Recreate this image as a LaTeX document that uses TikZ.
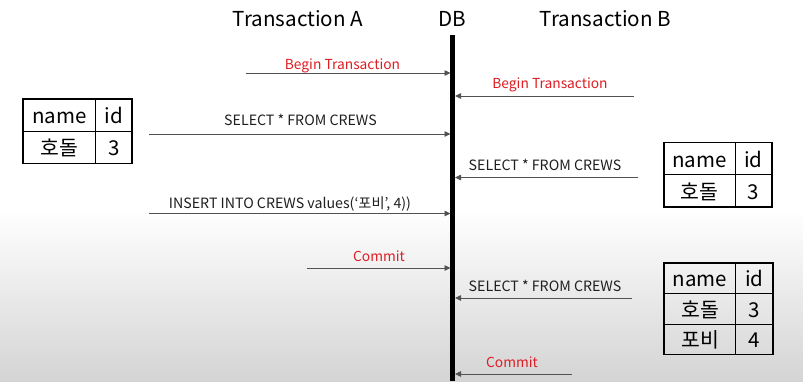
\documentclass[tikz,border=0pt]{standalone}
\usepackage{fontspec}
\setmainfont{Noto Sans CJK KR}
\usetikzlibrary{arrows.meta}
\definecolor{lblred}{RGB}{222,30,36}
\definecolor{bggray}{RGB}{212,212,212}
\begin{document}
\begin{tikzpicture}[x=1pt,y=-1pt,
  title/.style={font=\fontsize{20.6}{24}\selectfont, inner sep=0, anchor=base},
  lbl/.style={font=\fontsize{14.2}{16}\selectfont, inner sep=0, anchor=base, text=black!88},
  redlbl/.style={lbl, text=lblred, font=\fontsize{13.8}{16}\selectfont},
  msg/.style={draw=black!68, line width=0.8pt, -{Triangle[length=6pt,width=5.5pt]}},
  cellbox/.style={draw=black, line width=0.7pt, inner sep=0, font=\fontsize{20.5}{23}\selectfont, text height=21pt, text depth=4pt},
  outer/.style={draw=black, line width=1.7pt}]
\useasboundingbox (0,0) rectangle (803,381);
\fill[white] (0,0) rectangle (803,381);
\shade[top color=white, bottom color=bggray] (0,210) rectangle (803,381);

% titles
\node[title] (ta) at (298,26) {Transaction A};
\node[title] (db) at (452.5,26) {DB};
\node[title] (tb) at (605.5,26) {Transaction B};

% DB line
\coordinate (dbtop) at (452.5,35);
\coordinate (dbbot) at (452.5,381);
\draw[line width=5pt] (dbtop) -- (dbbot);

% endpoints
\coordinate (a1s) at (246,73);   \coordinate (a1e) at (450.5,73);
\coordinate (b1s) at (634,96);   \coordinate (b1e) at (455,96);
\coordinate (a2s) at (149,134);  \coordinate (a2e) at (450.5,134);
\coordinate (b2s) at (638,177.5);\coordinate (b2e) at (455,177.5);
\coordinate (a3s) at (149,213.5);\coordinate (a3e) at (450.5,213.5);
\coordinate (a4s) at (307,268);  \coordinate (a4e) at (450.5,268);
\coordinate (b3s) at (632,298);  \coordinate (b3e) at (455,298);
\coordinate (b4s) at (572,374);  \coordinate (b4e) at (455,374);

\draw[msg] (a1s) -- (a1e);
\draw[msg] (b1s) -- (b1e);
\draw[msg] (a2s) -- (a2e);
\draw[msg] (b2s) -- (b2e);
\draw[msg] (a3s) -- (a3e);
\draw[msg] (a4s) -- (a4e);
\draw[msg] (b3s) -- (b3e);
\draw[msg] (b4s) -- (b4e);

% labels
\node[redlbl] (la1) at (342.5,69) {Begin Transaction};
\node[redlbl] (lb1) at (550,88.3) {Begin Transaction};
\node[lbl] (la2) at (300.5,125.5) {SELECT * FROM CREWS};
\node[lbl] (lb2) at (545,170) {SELECT * FROM CREWS};
\node[lbl] (la3) at (290,208) {INSERT INTO CREWS values(‘포비’, 4))};
\node[redlbl] (la4) at (379,261.7) {Commit};
\node[lbl] (lb3) at (545,291) {SELECT * FROM CREWS};
\node[redlbl] (lb4) at (512,367.3) {Commit};

% table A1
\node[cellbox, minimum width=72.4pt, minimum height=32pt] (t1a) at (59.5,115) {name};
\node[cellbox, minimum width=36pt, minimum height=32pt] (t1b) at (113.7,115) {id};
\node[cellbox, minimum width=72.4pt, minimum height=32pt] (t1c) at (59.5,147.2) {호돌};
\node[cellbox, minimum width=36pt, minimum height=32pt] (t1d) at (113.7,147.2) {3};
\draw[outer] (t1a.north west) rectangle (t1d.south east);

% table B1
\node[cellbox, minimum width=71.3pt, minimum height=32pt] (t2a) at (699.65,158.7) {name};
\node[cellbox, minimum width=36.4pt, minimum height=32pt] (t2b) at (753.5,158.7) {id};
\node[cellbox, minimum width=71.3pt, minimum height=32pt] (t2c) at (699.65,190.7) {호돌};
\node[cellbox, minimum width=36.4pt, minimum height=32pt] (t2d) at (753.5,190.7) {3};
\draw[outer] (t2a.north west) rectangle (t2d.south east);

% table B2
\node[cellbox, minimum width=71.4pt, minimum height=30.3pt] (t3a) at (700,278.45) {name};
\node[cellbox, minimum width=37pt, minimum height=30.3pt] (t3b) at (754.2,278.45) {id};
\node[cellbox, minimum width=71.4pt, minimum height=30.3pt] (t3c) at (700,308.75) {호돌};
\node[cellbox, minimum width=37pt, minimum height=30.3pt] (t3d) at (754.2,308.75) {3};
\node[cellbox, minimum width=71.4pt, minimum height=30.3pt] (t3e) at (700,339.05) {포비};
\node[cellbox, minimum width=37pt, minimum height=30.3pt] (t3f) at (754.2,339.05) {4};
\draw[outer] (t3a.north west) rectangle (t3f.south east);
\end{tikzpicture}
\end{document}
